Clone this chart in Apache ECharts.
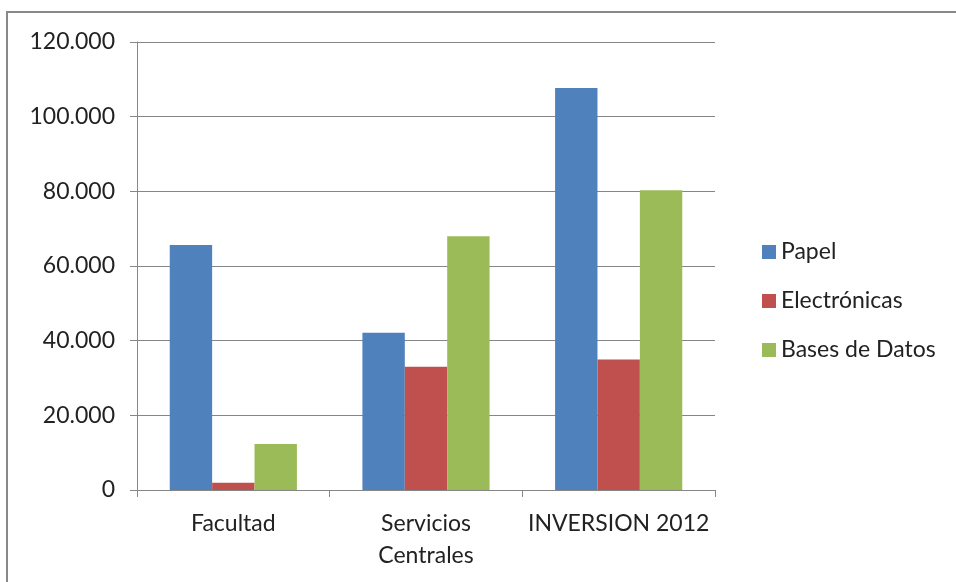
<!DOCTYPE html>
<html><head><meta charset="utf-8">
<script src="https://cdn.jsdelivr.net/npm/echarts@6/dist/echarts.min.js"></script>
<style>html,body{margin:0;padding:0;background:#fff}#c{width:956px;height:582px}</style>
</head><body><div id="c"></div>
<script>
const categories = ['Facultad', 'Servicios\nCentrales', 'INVERSION 2012'];
const papel = [65600, 42100, 107700];
const electronicas = [1950, 33000, 34950];
const basesDatos = [12300, 68000, 80300];
const seriesNames = ['Papel', 'Electrónicas', 'Bases de Datos'];
const colors = ['#4F81BD', '#C0504D', '#9BBB59'];

const FONT = 'Lato, "Open Sans", sans-serif';
const chart = echarts.init(document.getElementById('c'));
function fmt(v){ return String(v).replace(/\B(?=(\d{3})+(?!\d))/g, '.'); }
chart.setOption({
  animation: false,
  color: colors,
  textStyle: { fontFamily: FONT },
  graphic: [{ type: 'rect', shape: { x: 7, y: 12, width: 1000, height: 1000 }, style: { fill: 'none', stroke: '#898989', lineWidth: 2 }, silent: true }],
  grid: { left: 137, right: 241, top: 42, bottom: 92 },
  legend: {
    orient: 'vertical', left: 757, top: 235, itemWidth: 14, itemHeight: 14, itemGap: 25,
    icon: 'rect', textStyle: { fontSize: 23, lineHeight: 24, color: '#222', fontFamily: FONT },
    data: seriesNames
  },
  xAxis: {
    type: 'category', data: categories,
    axisLine: { lineStyle: { color: '#868686', width: 1 } },
    axisTick: { show: true, length: 7, lineStyle: { color: '#868686' } },
    axisLabel: { interval: 0, fontSize: 23, color: '#222', margin: 18, lineHeight: 32, fontFamily: FONT }
  },
  yAxis: {
    type: 'value', min: 0, max: 120000, interval: 20000,
    axisLine: { show: true, lineStyle: { color: '#868686' } },
    axisTick: { show: true, length: 7, lineStyle: { color: '#868686' } },
    splitLine: { lineStyle: { color: '#868686' } },
    axisLabel: { fontSize: 23, color: '#222', margin: 22, fontFamily: FONT, formatter: fmt }
  },
  series: [
    { name: seriesNames[0], type: 'bar', data: papel, barGap: '0%', barCategoryGap: '34%' },
    { name: seriesNames[1], type: 'bar', data: electronicas, barGap: '0%', barCategoryGap: '34%' },
    { name: seriesNames[2], type: 'bar', data: basesDatos, barGap: '0%', barCategoryGap: '34%' }
  ]
});
</script></body></html>
